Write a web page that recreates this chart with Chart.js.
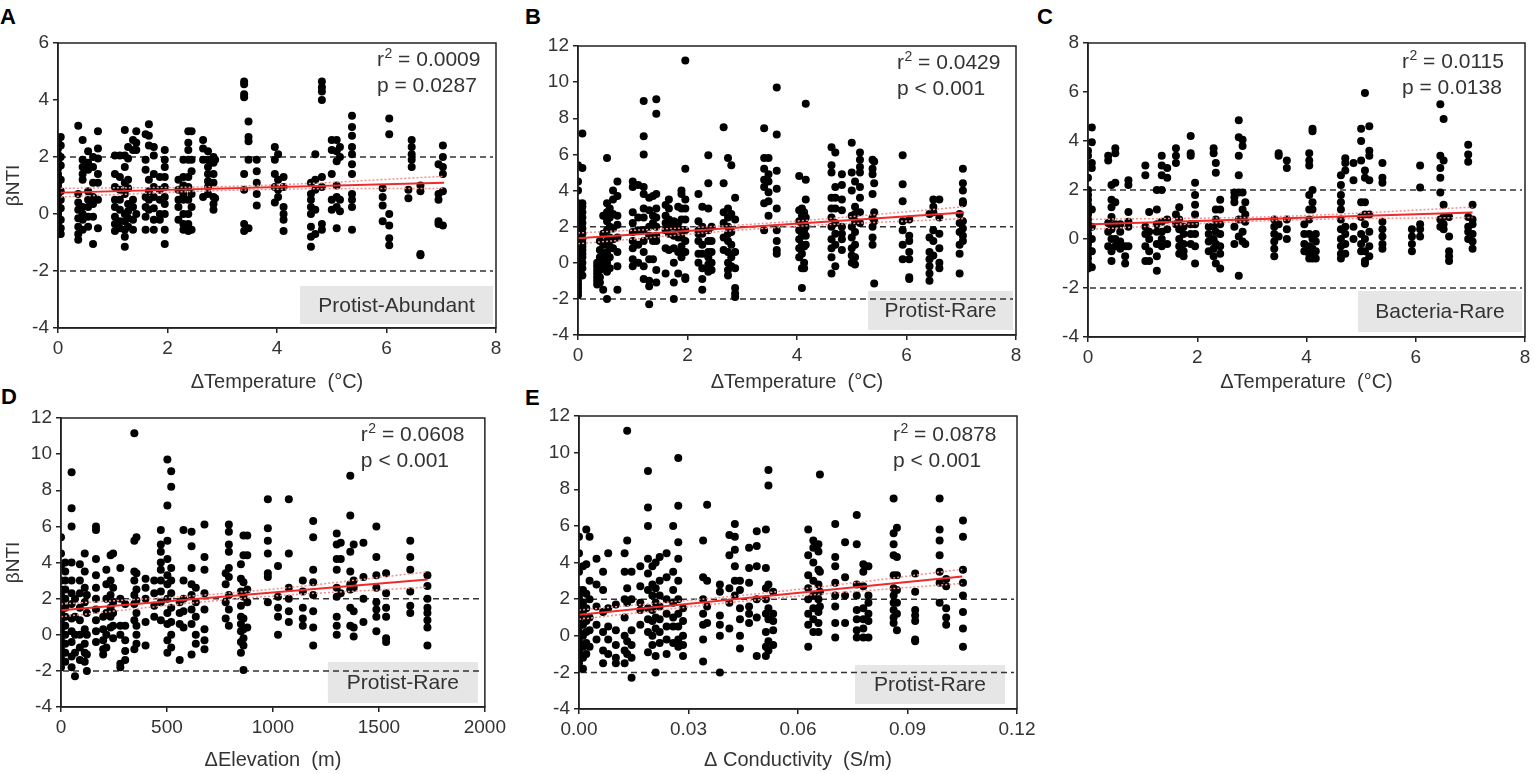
<!DOCTYPE html>
<html><head><meta charset="utf-8">
<script src="https://cdn.jsdelivr.net/npm/chart.js@4.4.1/dist/chart.umd.min.js"></script>
<style>
html,body{margin:0;padding:0;background:#fff;width:1535px;height:774px;overflow:hidden;font-family:"Liberation Sans",Arial,sans-serif}
canvas{position:absolute;display:block}
.lt{position:absolute;font:bold 22px/22px "Liberation Sans",Arial,sans-serif;color:#000}
</style></head><body>
<div class="lt" style="left:0;top:6px">A</div>
<div class="lt" style="left:525px;top:6px">B</div>
<div class="lt" style="left:1037px;top:6px">C</div>
<div class="lt" style="left:1px;top:386px">D</div>
<div class="lt" style="left:525px;top:387px">E</div>
<canvas id="cA" width="510" height="398" style="left:0;top:0;width:510px;height:398px"></canvas>
<canvas id="cB" width="510" height="398" style="left:520px;top:0;width:510px;height:398px"></canvas>
<canvas id="cC" width="505" height="398" style="left:1030px;top:0;width:505px;height:398px"></canvas>
<canvas id="cD" width="510" height="374" style="left:0;top:400px;width:510px;height:374px"></canvas>
<canvas id="cE" width="520" height="374" style="left:520px;top:400px;width:520px;height:374px"></canvas>
<script>
// ---------- tick labels ----------
const tempTicks = [0, 2, 4, 6, 8];
const tempLabels = ['0', '2', '4', '6', '8'];
const elevTicks = [0, 500, 1000, 1500, 2000];
const elevLabels = ['0', '500', '1000', '1500', '2000'];
const condTicks = [0, 0.03, 0.06, 0.09, 0.12];
const condLabels = ['0.00', '0.03', '0.06', '0.09', '0.12'];
const yTicksA = [-4, -2, 0, 2, 4, 6];
const yTicksC = [-4, -2, 0, 2, 4, 6, 8];
const yTicksBig = [-4, -2, 0, 2, 4, 6, 8, 10, 12];
const refLines = [2, -2];

// ---------- A: Protist-Abundant vs ΔTemperature ----------
const aX = [0, 0.05, 0.37, 0.45, 0.55, 0.64, 0.73, 1.04, 1.13, 1.22, 1.28, 1.37, 1.43, 1.6, 1.66, 1.75, 1.86, 1.95, 2.2, 2.29, 2.38, 2.44, 2.65, 2.74, 2.84, 2.87, 3.4, 3.48, 3.63, 3.96, 4.02, 4.12, 4.62, 4.7, 4.82, 5.0, 5.09, 5.15, 5.37, 5.93, 6.05, 6.4, 6.46, 6.62, 6.95, 7.03];
const aY = [
[2.6,2.5,2.3,2.1,2.0,1.9,1.8,1.6,1.4,1.3,1.2,1.1,1.0,0.9,0.8,0.7,0.6,0.5,0.4,0.3,0.2,0.1,0,-0.1,-0.2,-0.3,-0.4,-0.5,-0.6,-0.7],
[2.7,2.4,2.0,1.7,1.2,0.8,0.5,0.2,-0.2,-0.5,-0.7],
[3.1,0.7,0.4,0.15,-0.15,-0.45,-0.7,-0.9],
[2.6,1.9,1.65,1.4,1.2,0.25,0,-0.2,-0.55],
[2.2,1.8,1.55,0.8,0.5,0.25,-0.1,-0.45],
[2.0,1.65,1.1,0.6,0.35,-0.1,-1.05],
[2.9,2.3,1.95,1.4,1.1,0.5,-0.5],
[2.05,1.4,0.95,0.5,0.25,-0.1,-0.35,-0.6],
[2.05,1.3,0.85,0.5,0.15,-0.25,-0.5],
[2.95,2.05,1.65,1.1,0.7,0,-0.25,-0.55,-0.8,-1.15],
[2.35,1.95,1.2,0.9,0.35,0.1,-0.15,-0.45],
[2.6,2.25,0.5,0.25,-0.2,-0.55],
[2.9,2.5,2.25,0],
[2.8,1.9,1.55,0.6,0.25,-0.1,-0.55],
[3.15,2.75,2.4,1.2,0.8,0.5,0.15],
[2.35,2.05,1.4,0.95,0.6,0.2,-0.2,-0.55],
[1.3,0.85,0.5,0,-0.2],
[2.25,1.9,1.65,1.3,0.95,0.6,0.35,0,-0.55,-1.05],
[1.2,0.85,0.5,0.25,-0.2],
[1.9,1.3,1.0,0.7,0.5,0,-0.35,-0.55],
[2.9,2.5,2.25,1.9,1.3,0.95,0.5,0,-0.35,-0.6],
[2.9,1.9,1.5,0.7,0.25,-0.55],
[2.6,2.3,1.9,0.6],
[2.2,1.9,1.65,1.4,1.15,0.95,0.7],
[2.0,1.8,1.4,1.1,0.6,0.35,0.15],
[1.9,0.55],
[4.65,4.55,4.2,4.1,1.4,0.85,-0.35,-0.6],
[3.25,2.7,2.55,1.9,-0.5],
[1.9,1.5,1.1,0.7,0.3],
[2.35,1.9,1.4,0.95,0.4],
[2.1,1.2,0.85,0.6],
[1.3,0.95,0.25,0,-0.2,-0.6],
[1.1,0.7,0.5,0.25,0,-0.45,-0.8,-1.15],
[2.1,1.2,0.85,0.15,-0.7],
[4.65,4.45,4.3,4.0,1.3,0.95,-0.35,-0.55],
[2.6,2.25,1.4,0.5,0.15],
[2.6,2.2,1.85,1.0,0.6,0.25,-0.5],
[2.35,2.0,0.5,0.1],
[3.45,3.05,2.75,2.35,2.1,1.75,1.4,0.7,0.5,0.25,-0.55],
[0.9,0.6,0.3,-0.25],
[3.35,2.8,0,-0.4,-0.85,-1.1],
[0.85,0.55],
[2.6,2.35,2.1,1.9,1.65],
[1.0,0.8,-1.4,-1.45],
[1.75,0.7,0.5,-0.25,-0.35],
[2.4,2.0,1.65,1.4,0.8,-0.4]
];
const aFitX = [0.05, 7.05], aFitY = [0.75, 1.1];
const aCiX = [0.05, 3.5, 7.05], aCiHi = [0.9, 0.99, 1.32], aCiLo = [0.6, 0.85, 0.9];

// ---------- B: Protist-Rare vs ΔTemperature ----------
const bX = [0, 0.08, 0.35, 0.4, 0.46, 0.53, 0.58, 0.64, 0.72, 1.0, 1.1, 1.2, 1.3, 1.37, 1.43, 1.6, 1.66, 1.75, 1.83, 1.89, 1.96, 2.2, 2.27, 2.38, 2.44, 2.66, 2.74, 2.8, 2.87, 3.4, 3.48, 3.63, 4.04, 4.09, 4.13, 4.16, 4.63, 4.7, 4.82, 5.0, 5.06, 5.15, 5.38, 5.41, 5.93, 6.05, 6.42, 6.49, 6.6, 6.97, 7.03];
const bY = [
[5.4,4.5,4.0,3.3,2.8,2.5,2.2,2.0,1.8,1.6,1.4,1.2,1.0,0.8,0.6,0.4,0.2,0,-0.2,-0.4,-0.6,-0.8,-1.0,-1.2,-1.4,-1.6,-1.8],
[7.15,5.25,3.3,3.1,2.8,2.5,2.2,1.9,1.6,1.3,1.1,0.9,0.7,0.5,0.3,0,-0.3,-0.7],
[0,-0.2,-0.4,-0.6,-0.8,-1.0,-1.2],
[1.2,0.7,0.3,0,-0.4,-0.8,-1.1],
[2.6,1.6,1.0,0.5,0.2,-0.3,-1.5],
[5.8,3.3,2.8,2.3,1.8,1.2,0.6,0,-0.5,-2.0],
[3.0,2.5,2.0,1.4,0.9,0.3,-0.3],
[4.0,3.5,2.7,1.9,1.3,0.8],
[4.5,3.7,2.6,2.1,1.4,0.6,-0.2,-1.5],
[4.5,4.2,2.8,2.2,1.7,1.2,0.8,0.2,-0.2],
[4.3,2.5,1.8,1.0,0],
[8.95,7.0,6.0,4.2,3.8,3.0,2.5,1.8,1.2,0.6,-0.2,-0.9],
[3.6,2.9,2.0,1.5,0.2,-1.0,-1.3,-2.3],
[3.7,2.6,2.2,1.2,0.2],
[9.05,8.25,3.8,3.0,2.5,2.0,1.5,1.2,-0.4,-1.1],
[3.2,2.6,2.2,1.8,0.8,-0.6],
[3.5,3.0,2.4,2.0,1.6,0.7],
[2.3,2.0,1.5,0.8,0,-1.1,-2.0],
[3.1,2.2,1.9,1.4,0.6,-0.6],
[4.0,3.8,3.0,2.4,1.8,1.4,0.9,0.3],
[11.2,5.2,3.5,3.0,2.4,1.8,1.2,0.6,-0.8,-0.9],
[3.8,2.3,1.8,1.6,1.2,0.5,0],
[3.1,2.0,1.6,1.0,0.5,-0.3,-0.9,-1.5],
[5.95,4.4,3.0,1.8,1.2,0.6,0.3,-0.1,-0.5],
[2.0,1.2,0.6,0,-0.4],
[7.5,4.4,2.8,2.2,1.4,0.7],
[5.8,3.0,2.5,2.0,1.6,1.2,0.6,0,-0.4,-0.7],
[5.4,2.7,1.7,1.0,0.3,-0.2],
[3.6,2.4,0.6,-0.3,-1.4,-1.7,-1.9],
[7.45,5.8,5.2,4.6,4.2,3.3,1.8],
[5.8,4.9,4.5,3.9,3.4,2.6],
[9.7,7.1,5.1,4.1,3.0,1.8,1.2,0.7,0.5],
[4.8,2.9,2.3,1.8,1.3,0.8,0.3],
[3.0,2.6,2.0,1.5,1.0,0.5,-0.3,-1.4],
[2.8,2.3,1.8,0.9,0,-0.3],
[8.8,4.6,3.5,2.5,2.0,1.5,1.0],
[6.4,5.4,5.0,3.6,3.0,2.5,2.0,1.3,0.8,0.3,-0.6],
[6.1,4.2,3.6,3.0,2.2,1.6,1.0,-0.2],
[4.9,4.3,3.5,2.9,2.0,1.6,1.3,0.7],
[6.65,5.0,4.0,2.6,2.0,1.4,0.8,0.4,0],
[4.5,3.1,2.7,2.3,1.7,1.0,0.3,-0.1],
[6.1,5.7,5.3,5.0,4.2,3.6,2.8,2.2],
[5.7,5.2,4.9,3.8,2.5,2.0,1.4,1.0],
[5.6,4.4,2.8,2.3,-1.15],
[5.95,4.35,3.4,2.3,1.8,1.0,0.2],
[2.4,1.5,1.2,0.6,0.2,-0.8,-0.9],
[2.7,1.4,0.6,0.2,-0.2,-0.6,-1.0],
[3.5,3.1,2.8,1.8,1.2,0.4],
[3.5,2.5,1.6,0.8,0,-0.3],
[2.7,2.2,1.7,1.0,0.5,-0.6],
[5.2,4.4,4.0,3.4,3.3,2.3,1.9,1.5,1.2]
];
const bFitX = [0, 7.05], bFitY = [1.35, 2.78];
const bCiX = [0, 3.5, 7.05], bCiHi = [1.65, 2.2, 3.1], bCiLo = [1.05, 1.92, 2.45];

// ---------- C: Bacteria-Rare vs ΔTemperature ----------
const cX = [0, 0.07, 0.37, 0.43, 0.5, 0.59, 0.68, 0.74, 1.05, 1.12, 1.26, 1.35, 1.45, 1.61, 1.67, 1.75, 1.88, 1.96, 2.21, 2.3, 2.34, 2.42, 2.68, 2.76, 2.83, 2.88, 3.41, 3.49, 3.64, 3.96, 4.05, 4.11, 4.17, 4.63, 4.71, 4.86, 5.0, 5.07, 5.15, 5.39, 5.93, 6.08, 6.45, 6.51, 6.61, 6.96, 7.04];
const cY = [
[3.6,3.4,2.5,2.0,1.8,1.6,1.4,1.2,1.0,0.8,0.6,0.4,0.2,0,-0.2,-0.4,-0.6,-0.8,-1.0,-1.2],
[4.55,3.95,3.1,2.9,1.2,0.5,0,-0.5,-1.15],
[3.4,3.2,0.65,0.3,-0.3],
[2.2,1.6,1.3,0.9,0.4,0,-0.5,-0.9],
[3.7,3.5,2.3,1.5,0.6,0,-0.3],
[0.6,0.3,-0.1,-0.4],
[-0.3,-0.7,-1.0],
[2.4,2.2,1.1,0.7,0.5,-0.3],
[3.0,2.6,0.5,0.2,-0.3,-0.9],
[1.1,0.3,0,-0.5,-0.9],
[2.0,1.2,0.6,0.3,-0.2,-0.7,-1.3],
[3.4,3.0,2.6,2.0,0.7,0.3,0,-0.3],
[2.9,2.5,0.8,0.4,-0.2],
[3.7,3.4,3.1,1.0,0.6],
[1.3,0.8,0.4,0,-0.3,-0.6],
[0.5,0.2,-0.2,-0.5,-0.7],
[4.2,3.5,3.4,0.6,0.2,-0.2],
[2.3,1.8,1.4,1.0,0.6,0.2,-0.3,-1.0],
[0.5,0.2,-0.1,-0.5],
[3.7,3.5,0.5,0,-0.4,-0.7],
[3.1,2.7,1.2,0.8,0.3,-0.2,-1.0],
[1.6,1.2,0.6,0.2,-0.3,-0.6,-1.2],
[1.9,1.7,1.5,0.5,-0.2],
[4.85,4.15,3.4,2.6,1.9,0.8,0.1,-1.5],
[4.05,3.8,1.9,1.2,0.8,0.3,-0.1],
[1.5,1.0,0.7,-0.2],
[0.8,0.5,0.2,-0.1,-0.4,-0.7],
[3.5,3.4,0.6,0.1],
[3.2,2.9,0.8,0.4,0],
[0.6,0.2,-0.2,-0.5],
[3.5,3.2,3.0,1.8,1.2,0.8,0.2,-0.3,-0.6,-0.8],
[4.5,4.4,2.0,1.5,1.2,0,-0.4,-0.6,-0.8],
[0.2,-0.1,-0.5,-0.8],
[2.6,2.2,1.8,1.5,1.2,0.8,0.4,0,-0.3,-0.6,-0.8],
[3.3,3.1,2.8,0.5,0.2,-0.2,-0.6],
[3.1,2.4,0.5,0],
[4.5,4.0,3.2,1.5,0.9,0.2,-0.2,-0.5],
[5.96,2.8,2.5,1.5,1.0,0.6,0,-0.5,-0.9,-1.0],
[4.6,3.6,3.4,2.4,1.0,0.3,-0.3,-0.7],
[3.1,2.5,2.3,0.7,0.4,0.1,-0.2,-0.4],
[0.4,0.1,-0.2,-0.5],
[3.0,2.1,0.6,0.4,0.1],
[5.5,3.4,2.9,2.5,1.9,0.8,0.5],
[4.9,3.2,1.4,0.9,0.6,0.4],
[0.9,0.1,-0.5,-0.7,-0.9],
[3.85,3.45,3.15,0.9,0.5,0.3,0],
[1.4,0.8,0.6,0.2,-0.1,-0.4]
];
const cFitX = [0.07, 7.04], cFitY = [0.6, 1.08];
const cCiX = [0.07, 3.5, 7.04], cCiHi = [0.8, 0.92, 1.3], cCiLo = [0.4, 0.76, 0.88];

// ---------- D: Protist-Rare vs ΔElevation ----------
const dX = [0, 20, 50, 66, 89, 112, 122, 165, 199, 214, 234, 246, 280, 303, 346, 356, 399, 440, 471, 502, 520, 560, 578, 616, 636, 677, 777, 792, 849, 861, 879, 976, 1024, 1075, 1141, 1190, 1301, 1320, 1365, 1381, 1427, 1488, 1534, 1648, 1729];
const dY = [
[5.4,4.5,3.8,3.0,2.5,2.2,2.0,1.7,1.5,1.2,1.0,0.8,0.5,0.3,0,-0.3,-0.5,-0.8,-1.0,-1.3,-1.5,-1.8],
[4.0,3.5,3.0,2.5,2.0,1.5,1.0,0.5,0,-0.5,-1.0,-1.5],
[9.0,7.0,6.0,4.0,3.0,2.3,1.7,0.9,0.2,-0.4,-1.2,-1.8],
[2.0,1.0,0,-1.0,-2.3],
[3.9,3.0,2.3,1.5,0.8,0,-0.7,-1.4],
[4.5,3.5,2.6,1.8,0.3,-0.5,-1.0,-1.5],
[2.2,1.2,0,-1.1,-2.0],
[6.0,5.8,4.2,3.3,2.6,2.0,1.4,0.8,0.2,-0.4],
[1.0,0.3,-0.3,-0.8,-1.1],
[3.6,2.8,2.0,1.2,0,-0.7],
[4.4,3.0,2.2,1.5,1.0,0.4],
[4.5,2.6,1.8,1.2,0.5,-0.2],
[3.7,2.0,0.5,0,-1.6,-1.8],
[1.7,0.5,-0.3,-0.9,-1.4],
[11.15,5.2,3.5,3.0,2.2,1.7,0.8,-0.8],
[5.4,3.4,2.5,1.9,1.2,0.5,0,-0.5],
[3.1,2.6,2.0,0.7,-0.6],
[3.0,2.3,1.6,1.0],
[5.8,5.0,4.6,4.0,3.6,3.0,2.4,1.8,0.8],
[9.7,7.15,5.2,4.2,3.3,2.8,2.0,1.2,0.6,-0.3,-1.0],
[9.05,8.2,3.7,3.0,2.3,1.5,0.7,0,-0.7],
[1.8,1.2,0.6,-1.4],
[5.8,3.0,2.0,1.3,0.4],
[5.7,4.9,3.7,2.8,2.2,1.4,0.6,-1.1],
[2.6,1.8,1.0,0,-0.5],
[6.1,4.3,3.6,2.3,1.4,0.3,-0.3,-0.8],
[3.4,2.8,1.8,0.9],
[6.1,5.7,5.0,4.6,3.7,3.2,2.2,1.4,0.5],
[3.9,3.1,2.4,1.6,1.0,0.6,0.2,-0.4,-1.0],
[5.5,4.4,2.9,2.1,0.9,0.3,-0.2,-0.6,-1.95],
[5.5,4.4,2.5,1.8,0.4],
[7.5,5.9,5.2,4.5,3.4,3.2,1.8],
[3.8,2.1,1.5,1.0,0],
[7.5,4.5,2.6,2.0,1.3,0.7],
[3.0,2.4,1.5,0.9,0.5],
[6.3,5.4,3.6,2.9,2.2,1.3,0.4,-0.6],
[5.6,5.0,4.2,3.6,2.6,2.1,1.0,0.5,0],
[5.1,4.2,2.3],
[8.8,6.6,4.6,3.5,2.8,2.5,1.5,0.5],
[5.0,3.0,2.6,1.3,0.4,-0.1],
[5.1,3.2,2.0,0.7],
[6.0,4.3,3.3,2.6,1.8,1.4,1.0,0.2],
[3.4,2.3,1.5,1.0,-0.2,-0.4],
[5.2,4.3,3.6,2.4,1.6,1.2],
[3.3,2.7,2.0,1.5,1.2,0.8,0.4,-0.6]
];
const dFitX = [0, 1730], dFitY = [1.35, 3.06];
const dCiX = [0, 865, 1730], dCiHi = [1.7, 2.38, 3.48], dCiLo = [1.0, 2.02, 2.64];

// ---------- E: Protist-Rare vs ΔConductivity ----------
const eX = [0, 0.0011, 0.002, 0.0029, 0.0048, 0.0066, 0.008, 0.0101, 0.0125, 0.0132, 0.0144, 0.0168, 0.0189, 0.0201, 0.021, 0.0221, 0.024, 0.0258, 0.0272, 0.0285, 0.034, 0.0351, 0.0386, 0.0412, 0.0427, 0.0441, 0.0466, 0.0487, 0.0512, 0.0519, 0.0532, 0.0628, 0.0642, 0.0656, 0.066, 0.0702, 0.0729, 0.0761, 0.0779, 0.0793, 0.0862, 0.0871, 0.0921, 0.0988, 0.1006, 0.1052];
const eY = [
[5.4,4.5,3.5,2.5,2.2,2.0,1.5,1.2,1.0,0.7,0.5,0.2,0,-0.3,-0.5,-0.8,-1.0,-1.3,-1.5,-1.8],
[3.8,2.5,1.8,1.2,0.6,0,-0.6,-1.2,-1.8],
[5.8,3.9,2.3,1.5,0.8,0.2,-0.4,-1.0],
[5.4,3.0,2.0,1.0,0.3,-0.6],
[4.2,2.8,1.6,0.6,-0.2],
[3.5,2.5,1.3,0.2,-0.8,-1.5],
[4.5,1.5,0.5,-0.2,-1.0],
[1.7,0.3,-0.5,-1.2,-1.5],
[4.5,3.5,2.0,1.0,0,-0.8,-1.5],
[11.2,5.2,2.6,1.8,-0.3,-1.0],
[3.5,2.0,0.3,-0.5,-1.2,-2.3],
[3.8,2.7,1.8,1.4,0.6],
[9.0,7.0,6.0,4.2,3.4,2.5,1.5,0.9,0.2,-0.9],
[3.8,2.8,2.2,1.4,0.8,0,-0.5],
[4.0,2.6,1.8,1.0,0.4,-1.1,-2.0],
[4.3,3.0,2.2,1.6,0.9,0.2,-0.4],
[4.5,3.2,2.0,1.2,0.5,-0.2,-1.0],
[6.0,3.5,2.5,1.8,1.0,0.5,-0.4],
[9.7,7.1,5.1,4.2,3.0,2.0,1.2,0.5,-0.2,-0.6],
[1.5,0.8,0,-0.5,-1.1],
[5.2,3.2,2.0,1.2,0.6,-0.2,-1.4],
[7.15,3.0,1.6,0.7],
[2.8,2.4,1.1,0.6,0,-2.0],
[5.5,4.4,2.6,1.8,0.4],
[6.1,5.4,4.7,3.8,3.0,2.2],
[3.0,2.5,1.5,0.9,0,-0.7],
[4.8,3.7,2.9,1.6,1.2,0.7],
[5.7,4.9,3.8,2.0,1.0,-1.1],
[5.8,3.7,2.6,2.0,1.2,0.2,-0.6,-1.1],
[9.05,8.2,2.8,1.5,0.9,-0.3,-0.8],
[2.4,1.2,0.8,0.3,-0.5],
[5.8,4.4,3.3,2.6,2.0,1.2,0.6,-0.6],
[5.2,4.8,4.0,3.0,2.2,1.5,0.9,0.2],
[5.0,4.6,3.6,2.8,2.0,1.3,0.7,0.2],
[8.8,3.5,2.4,1.6],
[6.1,4.3,3.8,2.9,2.2,1.6,0.7,-0.1],
[5.1,3.2,2.2,0.7],
[6.6,5.0,2.8,2.2,1.4,0.9,0.3,-0.1],
[3.9,3.5,2.7,1.5,0.9,0.4,-0.1],
[3.8,2.2,1.8,1.2,0.8,-0.1],
[7.5,5.6,5.0,4.4,3.3,2.6,2.2,1.8,1.4,1.0,0.7],
[5.9,4.3,3.3,2.5,1.8,1.2,0.3],
[3.4,2.4,1.4,1.1,0.8,-0.2,-0.3],
[7.5,5.8,5.2,4.4,3.5,2.9,1.8],
[3.1,2.7,1.5,1.0,0.6],
[6.3,5.4,3.6,2.9,2.2,1.3,0.4,-0.6]
];
const eFitX = [0, 0.105], eFitY = [1.15, 3.24];
const eCiX = [0, 0.0525, 0.105], eCiHi = [1.4, 2.37, 3.62], eCiLo = [0.9, 2.03, 2.86];

// ---------- helpers ----------
const FONT = '"Liberation Sans", Arial, sans-serif';
function pts(xs, ys) {
  const out = [];
  xs.forEach((x, i) => (ys[i] || []).forEach(y => out.push({ x, y })));
  return out;
}
function zip(xs, ys) { return xs.map((x, i) => ({ x, y: ys[i] })); }

const deco = {
  id: 'deco',
  beforeDatasetsDraw(chart) {
    const o = chart.options.plugins.deco;
    const { ctx, chartArea: a, scales: { y } } = chart;
    ctx.save();
    const bw = o.box[2], bh = o.box[3];
    const bx = a.right - o.box[0] - bw, by = a.bottom - o.box[1] - bh;
    ctx.fillStyle = '#e6e6e6';
    ctx.fillRect(bx, by, bw, bh);
    ctx.fillStyle = '#333';
    ctx.font = '21px ' + FONT;
    ctx.textAlign = 'center';
    ctx.textBaseline = 'middle';
    ctx.fillText(o.label, bx + bw / 2, by + bh / 2 + 1);
    ctx.strokeStyle = '#333';
    ctx.lineWidth = 1.5;
    ctx.setLineDash([6, 4]);
    refLines.forEach(v => {
      const py = y.getPixelForValue(v);
      ctx.beginPath(); ctx.moveTo(a.left + 2, py); ctx.lineTo(a.right - 3, py); ctx.stroke();
    });
    ctx.restore();
  },
  afterDraw(chart) {
    const o = chart.options.plugins.deco;
    const { ctx, chartArea: a } = chart;
    ctx.save();
    ctx.strokeStyle = '#222';
    ctx.lineWidth = 1.5;
    ctx.strokeRect(a.left, a.top, a.right - a.left, a.bottom - a.top);
    ctx.fillStyle = '#333';
    ctx.textAlign = 'left';
    ctx.textBaseline = 'middle';
    const x0 = a.right - o.textInset, y1 = a.top + o.textTop, y2 = y1 + 26;
    ctx.font = '21px ' + FONT;
    ctx.fillText('r', x0, y1);
    let w = ctx.measureText('r').width;
    ctx.font = '14px ' + FONT;
    ctx.fillText('2', x0 + w + 0.5, y1 - 6);
    w += 0.5 + ctx.measureText('2').width;
    ctx.font = '21px ' + FONT;
    ctx.fillText(' = ' + o.r2, x0 + w, y1);
    ctx.fillText('p ' + o.p, x0, y2);
    ctx.restore();
  }
};

function build(id, c) {
  const axisCommon = {
    type: 'linear',
    grid: { drawOnChartArea: false, drawTicks: true, tickLength: 5, color: '#222', tickColor: '#222', tickWidth: 1.5, lineWidth: 1.5 },
    border: { display: true, color: '#222', width: 1.5 }
  };
  new Chart(document.getElementById(id), {
    type: 'scatter',
    data: {
      datasets: [
        { type: 'line', data: zip(c.fitX, c.fitY), borderColor: '#ee2a2a', borderWidth: 2, pointRadius: 0, order: 0 },
        { type: 'line', data: zip(c.ciX, c.ciHi), borderColor: '#f29090', borderWidth: 1.5, borderDash: [2, 2], pointRadius: 0, tension: 0.4, order: 1 },
        { type: 'line', data: zip(c.ciX, c.ciLo), borderColor: '#f29090', borderWidth: 1.5, borderDash: [2, 2], pointRadius: 0, tension: 0.4, order: 1 },
        { type: 'scatter', data: pts(c.xs, c.ys), backgroundColor: '#000', borderWidth: 0, pointRadius: 4, order: 2 }
      ]
    },
    options: {
      responsive: false,
      animation: false,
      events: [],
      layout: { padding: { top: c.padTop, right: c.padRight, left: 0, bottom: 0 } },
      plugins: {
        legend: { display: false },
        tooltip: { enabled: false },
        deco: { label: c.label, box: c.box, r2: c.r2, p: c.p, textInset: c.textInset, textTop: c.textTop }
      },
      scales: {
        x: Object.assign({}, axisCommon, {
          position: 'bottom',
          min: c.xTicks[0], max: c.xTicks[c.xTicks.length - 1],
          afterBuildTicks: s => { s.ticks = c.xTicks.map(v => ({ value: v })); },
          afterFit: s => { s.height = c.xH; },
          ticks: { color: '#333', font: { family: FONT, size: 19 }, padding: 4, maxRotation: 0, autoSkip: false,
                   callback: (v, i) => c.xLabels[i] },
          title: { display: true, text: c.xTitle, color: '#333', font: { family: FONT, size: 20 }, padding: { top: 0, bottom: c.xTitlePad } }
        }),
        y: Object.assign({}, axisCommon, {
          position: 'left',
          min: c.yTicks[0], max: c.yTicks[c.yTicks.length - 1],
          afterBuildTicks: s => { s.ticks = c.yTicks.map(v => ({ value: v })); },
          afterFit: s => { s.width = c.yW; },
          ticks: { color: '#333', font: { family: FONT, size: 19 }, padding: 4, autoSkip: false,
                   callback: v => String(v) },
          title: { display: !!c.yTitle, text: c.yTitle || '', color: '#333', font: { family: FONT, size: 19 }, padding: { top: 2, bottom: 0 } }
        })
      }
    },
    plugins: [deco]
  });
}

build('cA', { xs: aX, ys: aY, fitX: aFitX, fitY: aFitY, ciX: aCiX, ciHi: aCiHi, ciLo: aCiLo,
  xTicks: tempTicks, xLabels: tempLabels, yTicks: yTicksA, xTitle: 'ΔTemperature  (°C)', yTitle: 'βNTI',
  label: 'Protist-Abundant', r2: '0.0009', p: '= 0.0287',
  padTop: 43, padRight: 14, yW: 58, xH: 70, xTitlePad: 4, box: [3, 4, 193, 38], textInset: 119, textTop: 17 });
build('cB', { xs: bX, ys: bY, fitX: bFitX, fitY: bFitY, ciX: bCiX, ciHi: bCiHi, ciLo: bCiLo,
  xTicks: tempTicks, xLabels: tempLabels, yTicks: yTicksBig, xTitle: 'ΔTemperature  (°C)', yTitle: null,
  label: 'Protist-Rare', r2: '0.0429', p: '< 0.001',
  padTop: 46, padRight: 14, yW: 58, xH: 63, xTitlePad: 4, box: [3, 5, 145, 39], textInset: 119, textTop: 17 });
build('cC', { xs: cX, ys: cY, fitX: cFitX, fitY: cFitY, ciX: cCiX, ciHi: cCiHi, ciLo: cCiLo,
  xTicks: tempTicks, xLabels: tempLabels, yTicks: yTicksC, xTitle: 'ΔTemperature  (°C)', yTitle: null,
  label: 'Bacteria-Rare', r2: '0.0115', p: '= 0.0138',
  padTop: 43, padRight: 10, yW: 58, xH: 61, xTitlePad: 4, box: [3, 5, 164, 41], textInset: 123, textTop: 19 });
build('cD', { xs: dX, ys: dY, fitX: dFitX, fitY: dFitY, ciX: dCiX, ciHi: dCiHi, ciLo: dCiLo,
  xTicks: elevTicks, xLabels: elevLabels, yTicks: yTicksBig, xTitle: 'ΔElevation  (m)', yTitle: 'βNTI',
  label: 'Protist-Rare', r2: '0.0608', p: '< 0.001',
  padTop: 18, padRight: 13, yW: 61, xH: 67, xTitlePad: 2, box: [7, 4, 150, 41], textInset: 124, textTop: 17 });
build('cE', { xs: eX, ys: eY, fitX: eFitX, fitY: eFitY, ciX: eCiX, ciHi: eCiHi, ciLo: eCiLo,
  xTicks: condTicks, xLabels: condLabels, yTicks: yTicksBig, xTitle: 'Δ Conductivity  (S/m)', yTitle: null,
  label: 'Protist-Rare', r2: '0.0878', p: '< 0.001',
  padTop: 16, padRight: 23, yW: 59, xH: 65, xTitlePad: 2, box: [12, 5, 150, 39], textInset: 124, textTop: 19 });
</script>
</body></html>
